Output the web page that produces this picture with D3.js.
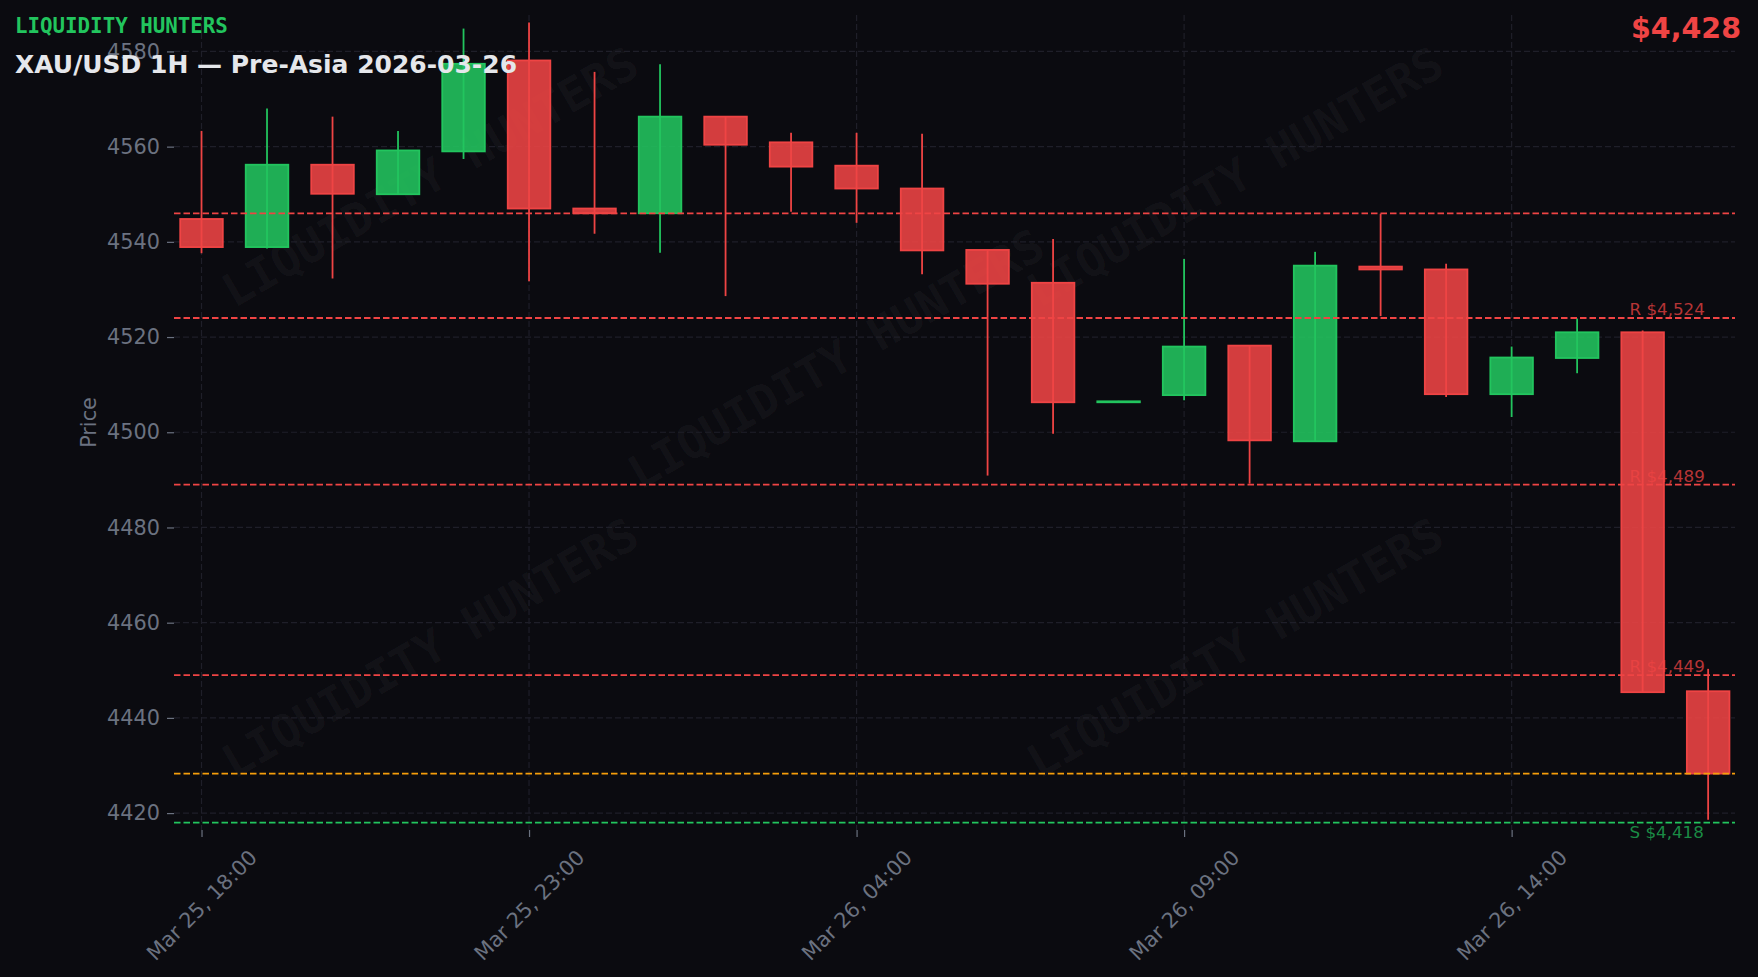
<!DOCTYPE html>
<html><head><meta charset="utf-8">
<script src="https://cdn.jsdelivr.net/npm/d3@7"></script>
<style>
html,body{margin:0;padding:0;background:#0b0b10;}
svg{display:block;}
</style></head>
<body>
<script>
// ---- data ----
const times = ["Mar 25, 18:00","Mar 25, 19:00","Mar 25, 20:00","Mar 25, 21:00","Mar 25, 22:00","Mar 25, 23:00",
  "Mar 26, 00:00","Mar 26, 01:00","Mar 26, 02:00","Mar 26, 03:00","Mar 26, 04:00","Mar 26, 05:00",
  "Mar 26, 06:00","Mar 26, 07:00","Mar 26, 08:00","Mar 26, 09:00","Mar 26, 10:00","Mar 26, 11:00",
  "Mar 26, 12:00","Mar 26, 13:00","Mar 26, 14:00","Mar 26, 15:00","Mar 26, 16:00","Mar 26, 17:00"];
const open  = [4544.8,4538.9,4556.2,4550.0,4559.0,4578.1,4547.0,4546.0,4566.3,4560.9,4556.0,4551.2,
               4538.3,4531.4,4506.3,4507.8,4518.2,4498.1,4534.8,4534.2,4508.0,4515.6,4521.0,4445.6];
const high  = [4563.3,4568.0,4566.3,4563.3,4584.8,4586.1,4575.7,4577.3,4566.3,4562.9,4562.9,4562.7,
               4538.3,4540.6,4506.6,4536.4,4518.2,4537.9,4545.9,4535.4,4518.0,4523.9,4521.4,4450.3];
const low   = [4537.6,4538.6,4532.3,4550.0,4557.4,4531.7,4541.7,4537.7,4528.6,4546.3,4544.0,4533.2,
               4490.9,4499.7,4506.2,4506.7,4489.2,4498.1,4524.4,4507.4,4503.2,4512.4,4445.4,4418.6];
const close = [4538.9,4556.2,4550.1,4559.2,4577.4,4547.0,4546.0,4566.3,4560.4,4555.8,4551.2,4538.2,
               4531.2,4506.3,4506.5,4518.0,4498.3,4535.0,4534.2,4508.0,4515.7,4521.0,4445.4,4428.3];
const xTickIdx = [0,5,10,15,20];
const yTicks = [4420,4440,4460,4480,4500,4520,4540,4560,4580];
const resistance = [4546,4524,4489,4449];
const resistanceLabels = ["", "R $4,524", "R $4,489", "R $4,449"];
const support = [4418];
const supportLabels = ["S $4,418"];
const currentPrice = 4428.3;
const currentLabel = "$4,428";
const brand = "LIQUIDITY HUNTERS";
const title = "XAU/USD 1H — Pre-Asia 2026-03-26";
const levelLabelX = 21.8;

(function(){
// ---- layout ----
const W = 1758, H = 977;
const mL = 174, mR = 1735, mT = 15, mB = 830;
const BG = "#0b0b10", GREEN = "#22c55e", RED = "#ef4444", ORANGE = "#f59e0b", GRAY = "#6b7280", GRID = "#1f1f29";

const svg = d3.select("body").append("svg").attr("width", W).attr("height", H);
svg.append("rect").attr("width", W).attr("height", H).attr("fill", BG);

const x = d3.scaleLinear().domain([-0.42, 23.41]).range([mL, mR]);
const y = d3.scaleLinear().domain([4416.45, 4587.65]).range([mB, mT]);
const step = x(1) - x(0);
const bodyW = step * 0.65;

// watermark
const wm = svg.append("g");
[[430,177],[1235,177],[836,359],[430,648],[1235,648]].forEach(([cx,cy]) => {
  wm.append("text").attr("transform", `translate(${cx},${cy}) rotate(-30)`)
    .attr("text-anchor","middle").attr("dominant-baseline","central")
    .attr("font-family","DejaVu Sans Mono").attr("font-weight","bold").attr("font-size",46)
    .attr("fill","#ffffff").attr("fill-opacity",0.045).text(brand);
});

// grid
const grid = svg.append("g");
grid.selectAll("line.h").data(yTicks).join("line")
  .attr("x1", mL).attr("x2", mR).attr("y1", d=>y(d)).attr("y2", d=>y(d))
  .attr("stroke", GRID).attr("stroke-width",1.2).attr("stroke-dasharray","6,3");
grid.selectAll("line.v").data(xTickIdx).join("line")
  .attr("x1", d=>x(d)).attr("x2", d=>x(d)).attr("y1", mT).attr("y2", mB)
  .attr("stroke", GRID).attr("stroke-width",1.2).attr("stroke-dasharray","6,3");

// axes
const yAxis = d3.axisLeft(y).tickValues(yTicks).tickSize(7).tickPadding(7).tickFormat(d3.format("d"));
const gy = svg.append("g").attr("transform", `translate(${mL},0)`).call(yAxis);
gy.select(".domain").remove();
gy.selectAll(".tick line").attr("stroke", GRAY).attr("stroke-width",1.2);
gy.selectAll(".tick text").attr("fill", GRAY).attr("font-family","DejaVu Sans").attr("font-size",20.8);

const xFont = 20.8;
const xAxis = d3.axisBottom(x).tickValues(xTickIdx).tickSize(7).tickFormat(d => times[d]);
const gx = svg.append("g").attr("transform", `translate(0,${mB})`).call(xAxis);
gx.select(".domain").remove();
gx.selectAll(".tick line").attr("stroke", GRAY).attr("stroke-width",1.2);
gx.selectAll(".tick text").attr("fill", GRAY).attr("font-family","DejaVu Sans").attr("font-size",xFont)
  .attr("text-anchor","middle").attr("dominant-baseline","central").attr("dy",null).attr("y",null)
  .each(function(){
    const t = d3.select(this);
    const L = this.getComputedTextLength();
    const h = xFont*0.95;
    const Hb = (L + h) / Math.SQRT2;
    t.attr("transform", `translate(0,${17 + Hb/2}) rotate(-45)`);
  });

svg.append("text").attr("transform", `translate(89,${(mT+mB)/2}) rotate(-90)`)
  .attr("text-anchor","middle").attr("dominant-baseline","central")
  .attr("font-family","DejaVu Sans").attr("font-size",20.8).attr("fill",GRAY).text("Price");

// candles
const idx = d3.range(open.length);
const cg = svg.append("g");
const col = i => close[i] >= open[i] ? GREEN : RED;
cg.selectAll("line.wick").data(idx).join("line")
  .attr("x1", i=>x(i)).attr("x2", i=>x(i)).attr("y1", i=>y(high[i])).attr("y2", i=>y(low[i]))
  .attr("stroke", col).attr("stroke-width", 1.8);
cg.selectAll("rect.body").data(idx).join("rect")
  .attr("x", i=>x(i)-bodyW/2).attr("width", bodyW)
  .attr("y", i=>y(Math.max(open[i],close[i])))
  .attr("height", i=>Math.abs(y(open[i])-y(close[i])))
  .attr("fill", col).attr("fill-opacity", 0.88).attr("stroke", col).attr("stroke-width", 1.8);

// levels
const lv = svg.append("g");
lv.selectAll("line.r").data(resistance).join("line")
  .attr("x1", mL).attr("x2", mR).attr("y1", d=>y(d)).attr("y2", d=>y(d))
  .attr("stroke", RED).attr("stroke-width",1.8).attr("stroke-dasharray","6.5,3");
lv.selectAll("text.r").data(resistance).join("text")
  .attr("x", x(levelLabelX)).attr("y", d=>y(d)-3)
  .attr("font-family","DejaVu Sans").attr("font-size",16.7).attr("fill",RED).attr("fill-opacity",0.75)
  .text((d,i)=>resistanceLabels[i]);
lv.append("line").attr("x1", mL).attr("x2", mR).attr("y1", y(currentPrice)).attr("y2", y(currentPrice))
  .attr("stroke", ORANGE).attr("stroke-width",1.8).attr("stroke-dasharray","6.5,3");
lv.selectAll("line.s").data(support).join("line")
  .attr("x1", mL).attr("x2", mR).attr("y1", d=>y(d)).attr("y2", d=>y(d))
  .attr("stroke", GREEN).attr("stroke-width",1.8).attr("stroke-dasharray","6.5,3");
lv.selectAll("text.s").data(support).join("text")
  .attr("x", x(levelLabelX)).attr("y", d=>y(d)+15)
  .attr("font-family","DejaVu Sans").attr("font-size",16.7).attr("fill",GREEN).attr("fill-opacity",0.7)
  .text((d,i)=>supportLabels[i]);

// header texts
svg.append("text").attr("x",15).attr("y",33).attr("font-family","DejaVu Sans Mono").attr("font-weight","bold")
  .attr("font-size",20.8).attr("fill",GREEN).text(brand);
svg.append("text").attr("x",15).attr("y",73).attr("font-family","DejaVu Sans").attr("font-weight","bold")
  .attr("font-size",25).attr("fill","#e5e7eb").text(title);
svg.append("text").attr("x",1741).attr("y",38).attr("text-anchor","end").attr("font-family","DejaVu Sans").attr("font-weight","bold")
  .attr("font-size",28.5).attr("fill",RED).text(currentLabel);
})();
</script>
</body></html>
